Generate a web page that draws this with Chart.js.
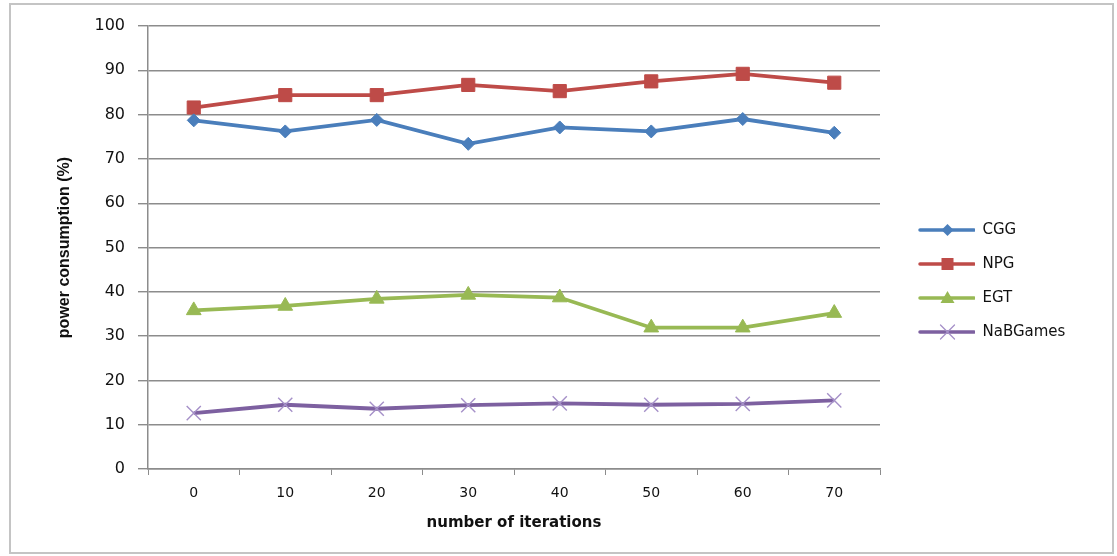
<!DOCTYPE html>
<html><head><meta charset="utf-8">
<script src="https://cdn.jsdelivr.net/npm/chart.js@4/dist/chart.umd.min.js"></script>
<style>
html,body{margin:0;padding:0;background:#fff;}
#wrap{position:relative;width:1117px;height:556px;}
#frame{position:absolute;left:9px;top:3px;width:1101px;height:547px;border:2px solid #c4c4c4;pointer-events:none;}
</style></head>
<body>
<div id="wrap"><canvas id="c" width="1117" height="556"></canvas><div id="frame"></div></div>
<script>
const categories = ['0','10','20','30','40','50','60','70'];
const cgg = [78.7, 76.2, 78.8, 73.4, 77.1, 76.2, 79.0, 75.9];
const npg = [81.6, 84.4, 84.4, 86.7, 85.3, 87.5, 89.2, 87.2];
const egt = [35.8, 36.8, 38.4, 39.3, 38.7, 31.9, 31.9, 35.2];
const nab = [12.6, 14.5, 13.6, 14.4, 14.8, 14.5, 14.7, 15.5];
const seriesNames = ['CGG','NPG','EGT','NaBGames'];
const yTicks = [0,10,20,30,40,50,60,70,80,90,100];

const colors = ['#4a7ebb','#be4b48','#98b954','#7d60a0'];
const markerColors = ['#4a7ebb','#be4b48','#98b954','#a590c8'];
const styles = ['rectRot','rect','triangle','crossRot'];
const radii = [6.5,9.3,8.5,10];

const LEG_W = 76, LEG_FONT = 15, LEG_PAD = 19;
function legendIcon(i){
  const cv = document.createElement('canvas');
  cv.width = LEG_W; cv.height = 22;
  const g = cv.getContext('2d');
  const y = 11, x0 = 21, x1 = 76, cx = (x0+x1)/2;
  g.strokeStyle = colors[i]; g.lineWidth = 3.5; g.lineCap='round';
  g.beginPath(); g.moveTo(x0,y); g.lineTo(x1-1,y); g.stroke();
  g.fillStyle = markerColors[i]; g.strokeStyle = markerColors[i];
  g.beginPath();
  if(i===0){ g.moveTo(cx,y-6);g.lineTo(cx+6,y);g.lineTo(cx,y+6);g.lineTo(cx-6,y);g.closePath();g.fill(); }
  else if(i===1){ g.fillRect(cx-6,y-6,12,12); }
  else if(i===2){ g.moveTo(cx,y-7);g.lineTo(cx+7,y+5);g.lineTo(cx-7,y+5);g.closePath();g.fill(); }
  else { g.lineWidth=1.3; g.moveTo(cx-7,y-7);g.lineTo(cx+7,y+7);g.moveTo(cx+7,y-7);g.lineTo(cx-7,y+7);g.stroke(); }
  return cv;
}
const icons = [0,1,2,3].map(legendIcon);

// compute right padding so the plot area ends at x=880
const mc = document.createElement('canvas').getContext('2d');
mc.font = LEG_FONT + 'px "DejaVu Sans"';
const maxText = Math.max(...seriesNames.map(s=>mc.measureText(s).width));
const legendWidth = LEG_PAD + LEG_W + LEG_FONT/2 + maxText + 10;
const padRight = Math.max(0, 1117 - 880 - legendWidth);

const dataSets = [cgg,npg,egt,nab].map((d,i)=>({
  label: seriesNames[i], data: d,
  borderColor: colors[i], backgroundColor: markerColors[i],
  pointBackgroundColor: markerColors[i], pointBorderColor: markerColors[i],
  borderWidth: 3.8, pointStyle: styles[i], pointRadius: radii[i], pointHoverRadius: radii[i],
  pointBorderWidth: i===3 ? 1.4 : 1, tension: 0
}));

new Chart(document.getElementById('c'), {
  type: 'line',
  data: { labels: categories, datasets: dataSets },
  options: {
    responsive: false, animation: false, devicePixelRatio: 1,
    layout: { padding: { left: 49, top: 26, bottom: 20, right: padRight } },
    plugins: {
      tooltip: { enabled: false },
      legend: {
        position: 'right',
        labels: {
          usePointStyle: true, pointStyleWidth: LEG_W, padding: LEG_PAD,
          color: '#111', font: { family: '"DejaVu Sans"', size: LEG_FONT },
          generateLabels(chart){
            return chart.data.datasets.map((ds,i)=>({
              text: ds.label, pointStyle: icons[i], fillStyle: colors[i],
              strokeStyle: colors[i], lineWidth: 0, hidden: false, datasetIndex: i, fontColor: '#111'
            }));
          }
        }
      }
    },
    scales: {
      x: {
        offset: true,
        grid: { offset: true, drawOnChartArea: false, drawTicks: true, tickLength: 6, color: '#8c8c8c' },
        border: { color: '#8c8c8c', width: 1.5 },
        ticks: { color: '#111', padding: 10, font: { family: '"DejaVu Sans"', size: 14 } },
        title: { display: true, text: 'number of iterations', color: '#111',
                 font: { family: '"DejaVu Sans"', size: 15, weight: 'bold' }, padding: { top: 6, bottom: 4 } },
        afterFit(s){ s.height = 556 - 20 - 469; }
      },
      y: {
        min: 0, max: 100,
        afterBuildTicks(s){ s.ticks = yTicks.map(v=>({value:v})); },
        grid: { color: '#8c8c8c', lineWidth: 1.4, tickLength: 10, drawTicks: true },
        border: { color: '#8c8c8c', width: 1.5 },
        ticks: { color: '#111', padding: 13, font: { family: '"DejaVu Sans"', size: 16 } },
        title: { display: true, text: 'power consumption (%)', color: '#111',
                 font: { family: '"Liberation Sans"', size: 16, weight: 'bold' }, padding: { top: 6, bottom: 4 } },
        afterFit(s){ s.width = 148 - 49; }
      }
    }
  }
});
</script>
</body></html>
